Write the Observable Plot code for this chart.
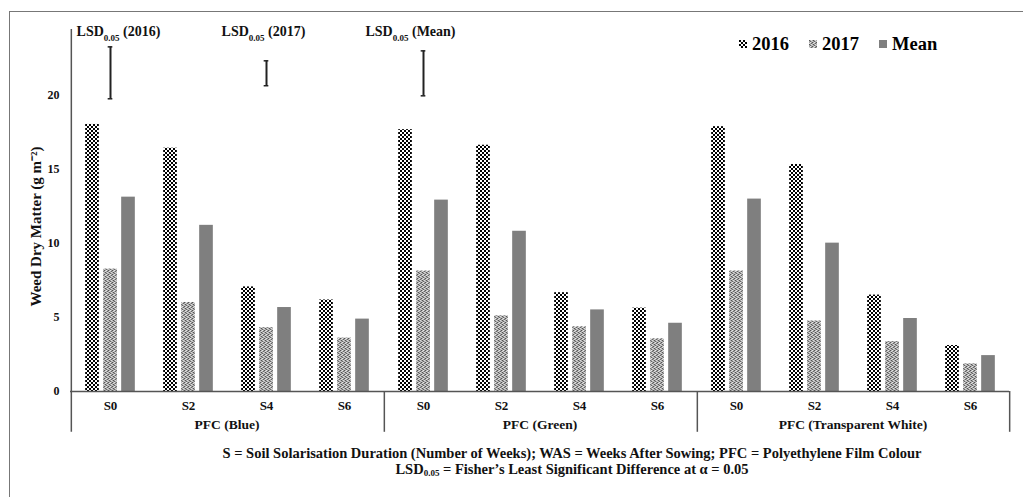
<!DOCTYPE html>
<html><head><meta charset="utf-8">
<script src="https://cdn.jsdelivr.net/npm/d3@7"></script>
<script src="https://cdn.jsdelivr.net/npm/@observablehq/plot@0.6"></script>
<style>
body{margin:0;background:#fff;}
#wrap{position:relative;width:1023px;height:497px;overflow:hidden;background:#fff;font-family:"Liberation Serif",serif;font-weight:bold;color:#000}
#frame{position:absolute;left:9px;top:11px;width:2000px;height:2000px;border:1.5px solid #777;box-sizing:border-box}
#chart{position:absolute;left:0;top:0}
#legend{position:absolute;top:33px;left:739px;display:flex;align-items:center;font-size:18.5px;line-height:22px}
#legend .item{display:flex;align-items:center;margin-right:20px}
#legend svg{margin-right:5px}
#foot{position:absolute;left:100px;width:944px;top:445px;text-align:center;font-size:14.5px;line-height:16px;color:#111}
#foot sub{font-size:9px;vertical-align:-2px;line-height:0}
</style>
</head><body>
<div id="wrap">
  <div id="frame"></div>
  <div id="chart"></div>
  <div id="legend"></div>
  <div id="foot"></div>
</div>
<script>
// ---- data ----
const groups = ["PFC (Blue)", "PFC (Green)", "PFC (Transparent White)"];
const durations = ["S0", "S2", "S4", "S6"];
const series = ["2016", "2017", "Mean"];
const v2016 = [18.0, 16.4, 7.05, 6.17, 17.65, 16.6, 6.66, 5.62, 17.85, 15.3, 6.5, 3.1];
const v2017 = [8.25, 6.0, 4.3, 3.6, 8.12, 5.1, 4.36, 3.55, 8.12, 4.75, 3.36, 1.86];
const vMean = [13.1, 11.2, 5.66, 4.88, 12.9, 10.8, 5.5, 4.6, 12.97, 10.0, 4.92, 2.42];
const yTicks = [0, 5, 10, 15, 20];
const lsdLabels = ["(2016)", "(2017)", "(Mean)"];
const lsdGroup = ["PFC (Blue)", "PFC (Blue)", "PFC (Green)"];
const lsdDur = ["S0", "S4", "S0"];
const lsdLow = [19.73, 20.61, 19.93];
const lsdHigh = [23.23, 22.29, 22.96];
const yLabel = "Weed Dry Matter (g m\u207B\u00B2)";
const footLine1 = "S = Soil Solarisation Duration (Number of Weeks); WAS = Weeks After Sowing; PFC = Polyethylene Film Colour";
const footLine2 = " = Fisher\u2019s Least Significant Difference at \u03B1 = 0.05";

// ---- layout ----
const W = 1023, H = 440, ML = 69, MR = 14, MT = 29, MB = 49;
const yMax = 24.4, yDrop = -2.75;
const bw = (W - ML - MR) / (groups.length * durations.length);
const barW = 14, offsets = [-18, 0, 18];
const fills = ["url(#p2016)", "url(#p2017)", "#7f7f7f"];
const values = [v2016, v2017, vMean];

const rows = groups.flatMap((g, gi) => durations.flatMap((d, di) =>
  series.map((s, si) => ({group: g, dur: d, series: s, value: values[si][gi * durations.length + di]}))));
const lsd = lsdLabels.map((l, i) => ({label: "LSD0.05 " + l, group: lsdGroup[i], dur: lsdDur[i], lo: lsdLow[i], hi: lsdHigh[i]}));
const labelDx = [8, -3, -13];
const yTickRows = yTicks.map(t => ({group: groups[0], v: t}));

const leftEdges = groups.map((g, i) => ({group: g, dur: durations[0], y1: i === 0 ? yMax : 0, y2: yDrop}));
const rightEdge = [{group: groups[groups.length - 1], dur: durations[durations.length - 1], y1: 0, y2: yDrop}];

const marks = [];
series.forEach((s, si) => {
  marks.push(Plot.barY(rows.filter(r => r.series === s), {
    fx: "group", x: "dur", y: "value", fill: fills[si],
    insetLeft: bw / 2 + offsets[si] - barW / 2,
    insetRight: bw / 2 - offsets[si] - barW / 2
  }));
});
marks.push(Plot.ruleY([0], {stroke: "#555", strokeWidth: 1.5}));
marks.push(Plot.ruleX(leftEdges, {fx: "group", x: "dur", y1: "y1", y2: "y2", dx: -bw / 2, stroke: "#555", strokeWidth: 1.5}));
marks.push(Plot.ruleX(rightEdge, {fx: "group", x: "dur", y1: "y1", y2: "y2", dx: bw / 2, stroke: "#555", strokeWidth: 1.5}));
// LSD bars
marks.push(Plot.ruleX(lsd, {fx: "group", x: "dur", y1: "lo", y2: "hi", stroke: "#222", strokeWidth: 2}));
marks.push(Plot.tickY(lsd, {fx: "group", x: "dur", y: "lo", stroke: "#222", strokeWidth: 1.5, insetLeft: bw / 2 - 2.5, insetRight: bw / 2 - 2.5}));
marks.push(Plot.tickY(lsd, {fx: "group", x: "dur", y: "hi", stroke: "#222", strokeWidth: 1.5, insetLeft: bw / 2 - 2.5, insetRight: bw / 2 - 2.5}));
lsd.forEach((d, i) => {
  marks.push(Plot.text([d], {fx: "group", x: "dur", text: "label", frameAnchor: "top", lineAnchor: "top", dy: -3, dx: labelDx[i], fontSize: 14, fill: "#111"}));
});
// axes
marks.push(Plot.text(yTickRows, {fx: "group", y: "v", text: d => String(d.v), frameAnchor: "left", textAnchor: "end", dx: -11, fontSize: 12, fill: "#111"}));
marks.push(Plot.axisX({tickSize: 0, tickPadding: 9, label: null, fontSize: 13, fill: "#111"}));
marks.push(Plot.axisFx({anchor: "bottom", tickSize: 0, tickPadding: 28, label: null, fontSize: 13.5, fill: "#111"}));
marks.push(Plot.text([{group: groups[0]}], {fx: "group", text: () => yLabel, frameAnchor: "left", textAnchor: "middle", rotate: -90, dx: -34, dy: 16, fontSize: 15, fill: "#111"}));

const plot = Plot.plot({
  width: W, height: H,
  marginLeft: ML, marginRight: MR, marginTop: MT, marginBottom: MB,
  style: {fontFamily: "Liberation Serif", fontWeight: "bold", fontSize: "12px", background: "transparent", overflow: "visible"},
  fx: {domain: groups, padding: 0, label: null},
  x: {domain: durations, padding: 0, label: null},
  y: {domain: [0, yMax], label: null, axis: null},
  marks
});

// patterns
const svgNS = "http://www.w3.org/2000/svg";
const defs = d3.create("svg:defs");
const p1 = defs.append("pattern").attr("id", "p2016").attr("patternUnits", "userSpaceOnUse").attr("width", 4).attr("height", 4);
p1.append("rect").attr("width", 4).attr("height", 4).attr("fill", "#fff");
p1.append("rect").attr("x", 0).attr("y", 0).attr("width", 2).attr("height", 2).attr("fill", "#000");
p1.append("rect").attr("x", 2).attr("y", 2).attr("width", 2).attr("height", 2).attr("fill", "#000");
const p2 = defs.append("pattern").attr("id", "p2017").attr("patternUnits", "userSpaceOnUse").attr("width", 4).attr("height", 4);
p2.append("rect").attr("width", 4).attr("height", 4).attr("fill", "#a8a8a8");
[[0,0,"#555"],[2,0,"#ddd"],[1,1,"#666"],[3,2,"#555"],[0,3,"#ddd"],[2,3,"#666"],[1,2,"#e8e8e8"],[3,1,"#ccc"]].forEach(([x,y,c]) =>
  p2.append("rect").attr("x", x).attr("y", y).attr("width", 1).attr("height", 1).attr("fill", c));
const svgEl = plot.tagName.toLowerCase() === "svg" ? plot : plot.querySelector("svg");
svgEl.insertBefore(defs.node(), svgEl.firstChild);

// subscripts in LSD labels
svgEl.querySelectorAll("text").forEach(t => {
  const m = /^LSD0\.05 (.*)$/.exec(t.textContent);
  if (!m) return;
  t.textContent = "";
  const a = document.createElementNS(svgNS, "tspan"); a.textContent = "LSD";
  const b = document.createElementNS(svgNS, "tspan"); b.textContent = "0.05";
  b.setAttribute("font-size", "9"); b.setAttribute("baseline-shift", "sub");
  const c = document.createElementNS(svgNS, "tspan"); c.textContent = " " + m[1];
  t.append(a, b, c);
});
document.getElementById("chart").appendChild(plot);

// legend
const leg = d3.select("#legend");
series.forEach((s, si) => {
  const it = leg.append("div").attr("class", "item");
  const sv = it.append("svg").attr("width", 8).attr("height", 8);
  sv.append("rect").attr("width", 8).attr("height", 8).attr("fill", fills[si]);
  it.append("span").text(s);
});

// footnote
const foot = d3.select("#foot");
foot.append("div").text(footLine1);
const l2 = foot.append("div");
l2.append("span").text("LSD");
l2.append("sub").text("0.05");
l2.append("span").text(footLine2);
</script>
</body></html>
